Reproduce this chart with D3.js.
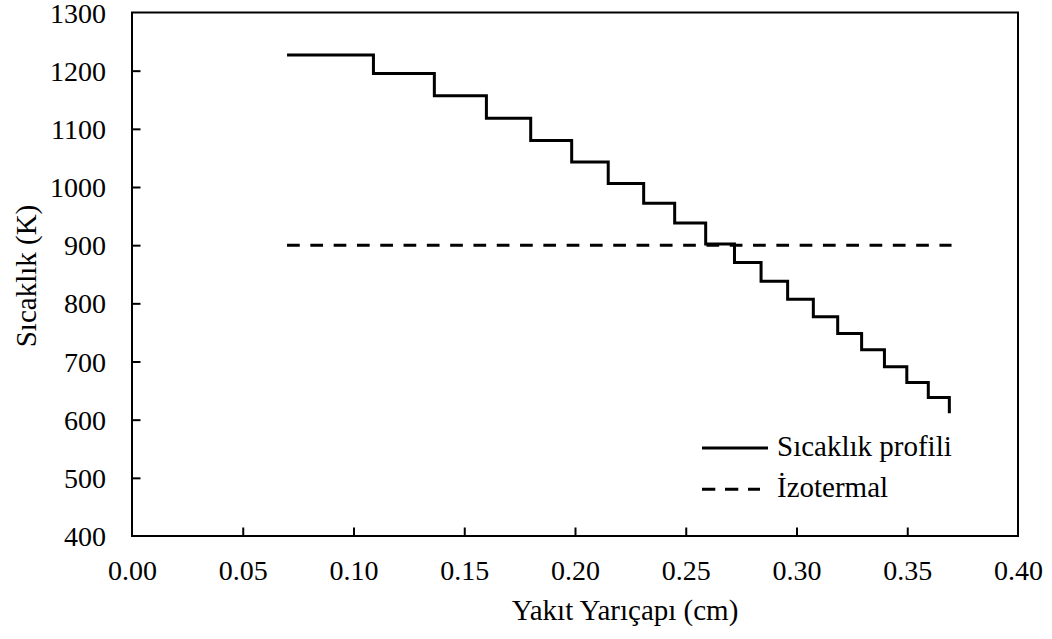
<!DOCTYPE html>
<html>
<head>
<meta charset="utf-8">
<script src="https://cdn.jsdelivr.net/npm/d3@7"></script>
<style>
body { margin: 0; background: #fff; }
svg { display: block; }
</style>
</head>
<body>
<svg></svg>
<script>
// step profile: radius where each step starts (cm) and temperature (K)
var radius = [0.070, 0.109, 0.1365, 0.160, 0.180, 0.1985, 0.215, 0.231, 0.245, 0.259,
              0.272, 0.284, 0.296, 0.3076, 0.3186, 0.3294, 0.3397, 0.3498, 0.3595, 0.369];
var temperature = [1227, 1195, 1157, 1118, 1080, 1043, 1006, 972, 938, 902,
                   870, 838, 807, 777, 748, 720, 691, 664, 638, 611];
var isoRadius = [0.07, 0.37];
var isoTemp = [900, 900];
var xTicks = [0, 0.05, 0.10, 0.15, 0.20, 0.25, 0.30, 0.35, 0.40];
var yTicks = [400, 500, 600, 700, 800, 900, 1000, 1100, 1200, 1300];
var seriesNames = ["Sıcaklık profili", "İzotermal"];

var W = 1052, H = 639;
var svg = d3.select("svg").attr("width", W).attr("height", H);
var font = "'Liberation Serif', 'Times New Roman', serif";

var mLeft = 132, mRight = 1018, mTop = 12.5, mBottom = 536;

var xScale = d3.scaleLinear().domain([0, 0.40]).range([mLeft, mRight]),
    yScale = d3.scaleLinear().domain([400, 1300]).range([mBottom, mTop]);

// axes with inward ticks
var xAxis = svg.append("g")
    .attr("transform", "translate(0," + mBottom + ")")
    .call(d3.axisBottom(xScale).tickValues(xTicks).tickSizeInner(-8.5).tickSizeOuter(0)
        .tickFormat(d3.format(".2f")));
var yAxis = svg.append("g")
    .attr("transform", "translate(" + mLeft + ",0)")
    .call(d3.axisLeft(yScale).tickValues(yTicks).tickSizeInner(-8.5).tickSizeOuter(0)
        .tickFormat(d3.format("d")));

[xAxis, yAxis].forEach(function(a) {
    a.select(".domain").remove();
    a.selectAll("line").attr("stroke", "#000").attr("stroke-width", 2);
    a.selectAll("text").style("font-family", font).style("font-size", "28px").attr("fill", "#000");
});
xAxis.selectAll("text").attr("y", 44).attr("dy", 0);
yAxis.selectAll("text").attr("x", -26).attr("dy", "0.34em");
yAxis.selectAll(".tick line").filter(function(d) { return d === 1300 || d === 400; }).remove();
xAxis.selectAll(".tick line").filter(function(d) { return d === 0 || d === 0.40; }).remove();

// plot frame
svg.append("rect")
    .attr("x", mLeft).attr("y", mTop)
    .attr("width", mRight - mLeft).attr("height", mBottom - mTop)
    .attr("fill", "none").attr("stroke", "#000").attr("stroke-width", 2);

// isothermal line
var line = d3.line()
    .x(function(d) { return xScale(d[0]); })
    .y(function(d) { return yScale(d[1]); });

svg.append("path")
    .datum(d3.zip(isoRadius, isoTemp))
    .attr("d", line)
    .attr("fill", "none")
    .attr("stroke", "#000")
    .attr("stroke-width", 3)
    .attr("stroke-dasharray", "12.7,10.6");

// temperature step profile
var stepLine = d3.line()
    .x(function(d) { return xScale(d[0]); })
    .y(function(d) { return yScale(d[1]); })
    .curve(d3.curveStepAfter);

svg.append("path")
    .datum(d3.zip(radius, temperature))
    .attr("d", stepLine)
    .attr("fill", "none")
    .attr("stroke", "#000")
    .attr("stroke-width", 3)
    .attr("stroke-linejoin", "miter");

// legend
var legend = svg.append("g").attr("transform", "translate(702,448)");
seriesNames.forEach(function(name, i) {
    var gy = i * 41.3;
    legend.append("line")
        .attr("x1", 0).attr("x2", i === 0 ? 66 : 58)
        .attr("y1", gy).attr("y2", gy)
        .attr("stroke", "#000").attr("stroke-width", 3)
        .attr("stroke-dasharray", i === 0 ? null : "13.3,9.7");
    legend.append("text")
        .attr("x", 75).attr("y", gy + 8)
        .style("font-family", font).style("font-size", "29px")
        .text(name);
});

// axis titles
svg.append("text")
    .attr("x", 625).attr("y", 620)
    .attr("text-anchor", "middle")
    .style("font-family", font).style("font-size", "29px")
    .text("Yakıt Yarıçapı (cm)");

svg.append("text")
    .attr("text-anchor", "middle")
    .attr("transform", "translate(36,276)rotate(-90)")
    .style("font-family", font).style("font-size", "29px")
    .text("Sıcaklık (K)");
</script>
</body>
</html>
